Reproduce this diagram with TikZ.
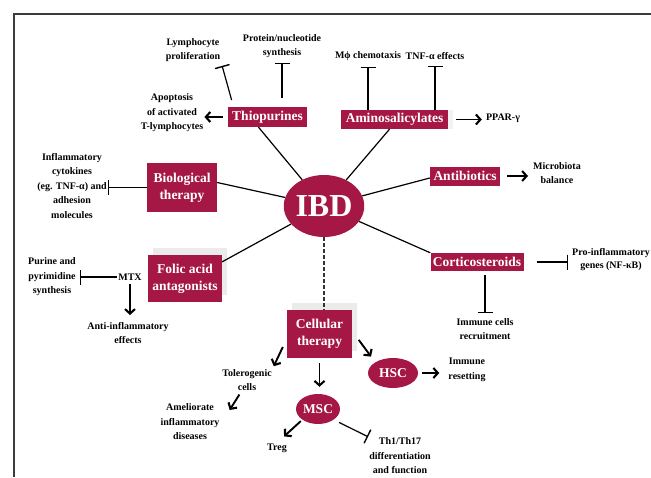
\documentclass[tikz,border=0pt]{standalone}
\usepackage{fontspec}
\setmainfont{Liberation Serif}
\usetikzlibrary{arrows.meta,shapes.geometric,shadows}
\definecolor{crim}{RGB}{165,24,70}
\definecolor{framecol}{RGB}{60,60,60}
\begin{document}
\begin{tikzpicture}[x=1pt,y=-1pt,
  box/.style={fill=crim,text=white,font=\fontsize{13.5}{17}\selectfont\bfseries,align=center,inner sep=2pt},
  ell/.style={ellipse,fill=crim,text=white,inner sep=0pt},
  lab/.style={font=\fontsize{10}{14.5}\selectfont\bfseries,align=center,inner sep=1pt},
  link/.style={line width=1.2pt},
  arr/.style={line width=1.9pt,-{Straight Barb[length=4.5pt,width=10pt,line width=2.1pt]}},
  inh/.style={line width=1.2pt,-{Bar[width=15pt,line width=1.4pt]}},
  gshadow/.style={general shadow={fill=gray!16,shadow xshift=5pt,shadow yshift=7pt}}
]
\useasboundingbox (0,0) rectangle (651,477);
\fill[white] (0,0) rectangle (651,477);
\draw[framecol,line width=1.3pt] (651,14) -- (14,14) -- (14,477);

% central node
\node[ell,minimum width=78pt,minimum height=62pt,font=\fontsize{32}{32}\selectfont\bfseries] (ibd) at (324,206) {IBD};

% drug boxes
\node[box,minimum width=79pt,minimum height=20pt] (thio) at (267.5,117) {Thiopurines};
\node[box,minimum width=107pt,minimum height=19pt,general shadow={fill=gray!10,shadow xshift=5pt,shadow yshift=0pt}] (amino) at (394.5,119.5) {Aminosalicylates};
\node[box,minimum width=70pt,minimum height=19pt] (anti) at (465,176) {Antibiotics};
\node[box,minimum width=70pt,minimum height=49pt] (bio) at (182,187.5) {Biological\\therapy};
\node[box,minimum width=74pt,minimum height=47pt,gshadow] (folic) at (185,278.5) {Folic acid\\antagonists};
\node[box,minimum width=93pt,minimum height=18pt] (cort) at (477,262) {Corticosteroids};
\node[box,minimum width=65pt,minimum height=48pt,gshadow] (cell) at (319.5,334) {Cellular\\therapy};
\node[ell,minimum width=50pt,minimum height=30pt,font=\fontsize{13.5}{15}\selectfont\bfseries] (hsc) at (393,373) {HSC};
\node[ell,minimum width=44pt,minimum height=30pt,font=\fontsize{13.5}{15}\selectfont\bfseries] (msc) at (318,409) {MSC};

% labels
\node[lab] (lymph) at (193,50) {Lymphocyte\\proliferation};
\node[lab] (prot) at (282,46) {Protein/nucleotide\\synthesis};
\node[lab] (apop) at (172,113) {Apoptosis\\of activated\\T-lymphocytes};
\node[lab] (mphi) at (368,56) {Mϕ chemotaxis};
\node[lab] (tnf) at (435,56) {TNF-α effects};
\node[lab] (ppar) at (503,118) {PPAR-γ};
\node[lab] (micro) at (557,173) {Microbiota\\balance};
\node[lab] (infl) at (72,186) {Inflammatory\\cytokines\\(eg. TNF-α) and\\adhesion\\molecules};
\node[lab,inner xsep=4pt] (pur) at (52,277) {Purine and\\pyrimidine\\synthesis};
\node[lab] (mtx) at (130,277) {MTX};
\node[lab] (antiinf) at (128,333) {Anti-inflammatory\\effects};
\node[lab,font=\fontsize{10}{13}\selectfont\bfseries] (pro) at (611,260) {Pro-inflammatory\\genes (NF-κB)};
\node[lab] (immune) at (485,329) {Immune cells\\recruitment};
\node[lab] (tol) at (247,380) {Tolerogenic\\cells};
\node[lab] (amel) at (190,422) {Ameliorate\\inflammatory\\diseases};
\node[lab] (reset) at (467,370) {Immune\\resetting};
\node[lab] (treg) at (277,448) {Treg};
\node[lab] (th) at (400,456) {Th1/Th17\\differentiation\\and function};

% IBD spokes
\draw[link] (ibd) -- ([xshift=-9pt]thio.south);
\draw[link] (ibd) -- ([xshift=-5pt]amino.south);
\draw[link] (ibd) -- ([yshift=-2pt]anti.west);
\draw[link] (ibd) -- ([yshift=5pt]bio.east);
\draw[link] (ibd) -- ([yshift=-7pt]folic.north east);
\draw[link] (ibd) -- (cort.north west);
\draw[link,dash pattern=on 4pt off 2pt,black!80] (ibd.south) -- (cell.north -| ibd.south);

% thiopurines
\draw[arr,shorten <=5pt] (thio.west) -- (thio.west -| apop.east);
\draw[inh,shorten <=7pt,shorten >=3pt] ([xshift=-34pt]thio.north) -- (lymph.south east);
\draw[inh,shorten <=9pt,shorten >=4pt] (prot.south |- thio.north) -- (prot.south);

% aminosalicylates
\draw[inh,shorten >=5pt] (mphi.south |- amino.north) -- (mphi.south);
\draw[inh,shorten >=5pt] (tnf.south |- amino.north) -- (tnf.south);
\draw[arr,shorten <=8pt,shorten >=3pt] (amino.east) -- (amino.east -| ppar.west);

% antibiotics
\draw[arr,shorten <=7pt,shorten >=4pt] (anti.east) -- (anti.east -| micro.west);

% biological therapy
\draw[inh] (bio.west) -- (bio.west -| infl.east);

% folic acid / MTX
\draw[inh] (mtx.west) -- (mtx.west -| pur.east);
\draw[arr,shorten <=3pt,shorten >=6pt] (mtx.south) -- (mtx.south |- antiinf.north);

% corticosteroids
\draw[inh,shorten <=13pt,shorten >=3pt] (cort.east) -- (cort.east -| pro.west);
\draw[inh,shorten <=4pt,shorten >=4pt] (immune.north |- cort.south) -- (immune.north);

% cellular therapy
\draw[arr,shorten >=2pt] ([xshift=-4pt,yshift=-13pt]cell.west) -- (tol.north east);
\draw[arr,shorten <=3pt] ([xshift=-6pt]tol.south) -- ([xshift=9pt,yshift=12pt]amel.east);
\draw[arr,shorten <=5pt,shorten >=7pt] (cell.south) -- (cell.south |- msc.north);
\draw[arr,shorten <=11pt,shorten >=7pt] ([yshift=3pt]cell.east) -- (hsc.north west);
\draw[arr,shorten <=4pt,shorten >=8pt] (hsc.east) -- (hsc.east -| reset.west);
\draw[arr,shorten <=2pt] (msc.south west) -- ([xshift=-4pt,yshift=6pt]treg.north east);
\draw[inh,shorten <=6pt] (msc.south east) -- (th.north west);
\end{tikzpicture}
\end{document}
